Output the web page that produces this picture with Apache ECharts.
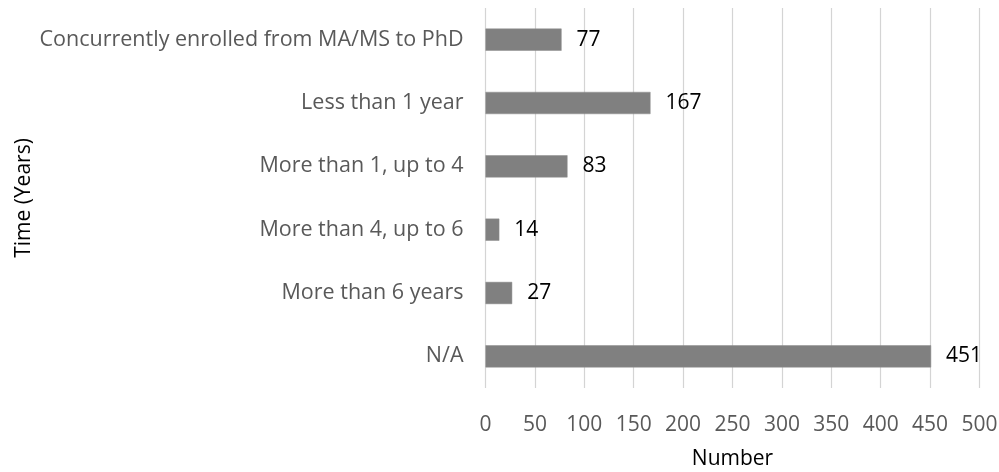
<!DOCTYPE html>
<html>
<head>
<meta charset="utf-8">
<script src="https://cdn.jsdelivr.net/npm/echarts@6/dist/echarts.min.js"></script>
<style>html,body{margin:0;padding:0;background:#fff;}#c{width:999px;height:472px;}</style>
</head>
<body>
<div id="c"></div>
<script>
var categories = ["Concurrently enrolled from MA/MS to PhD", "Less than 1 year", "More than 1, up to 4", "More than 4, up to 6", "More than 6 years", "N/A"];
var values = [77, 167, 83, 14, 27, 451];
var xTicks = [0, 50, 100, 150, 200, 250, 300, 350, 400, 450, 500];

var font = "'Open Sans', sans-serif";
var chart = echarts.init(document.getElementById('c'), null, {renderer: 'canvas'});
chart.setOption({
  animation: false,
  backgroundColor: '#ffffff',
  grid: {left: 485.5, right: 19.5, top: 8, bottom: 84, containLabel: false, outerBoundsMode: 'none'},
  xAxis: {
    type: 'value',
    min: xTicks[0],
    max: xTicks[xTicks.length - 1],
    interval: xTicks[1] - xTicks[0],
    name: 'Number',
    nameLocation: 'middle',
    nameGap: 61,
    nameTextStyle: {color: '#000', fontSize: 21, fontFamily: font},
    axisLine: {show: false},
    axisTick: {show: false},
    splitLine: {show: true, lineStyle: {color: '#d4d4d4', width: 1.2}},
    axisLabel: {color: '#595959', fontSize: 21, fontFamily: font, margin: 27}
  },
  yAxis: {
    type: 'category',
    data: categories,
    inverse: true,
    name: 'Time (Years)',
    nameLocation: 'middle',
    nameGap: 451,
    nameTextStyle: {color: '#000', fontSize: 21, fontFamily: font},
    axisLine: {show: false},
    axisTick: {show: false},
    splitLine: {show: false},
    axisLabel: {color: '#595959', fontSize: 21.5, fontFamily: font, margin: 22}
  },
  series: [{
    type: 'bar',
    data: values,
    barCategoryGap: '65%',
    itemStyle: {color: '#808080', borderColor: '#8c8c8c', borderWidth: 0.5},
    label: {show: true, position: 'right', distance: 15, color: '#000', fontSize: 21, fontFamily: font}
  }]
});
</script>
</body>
</html>
